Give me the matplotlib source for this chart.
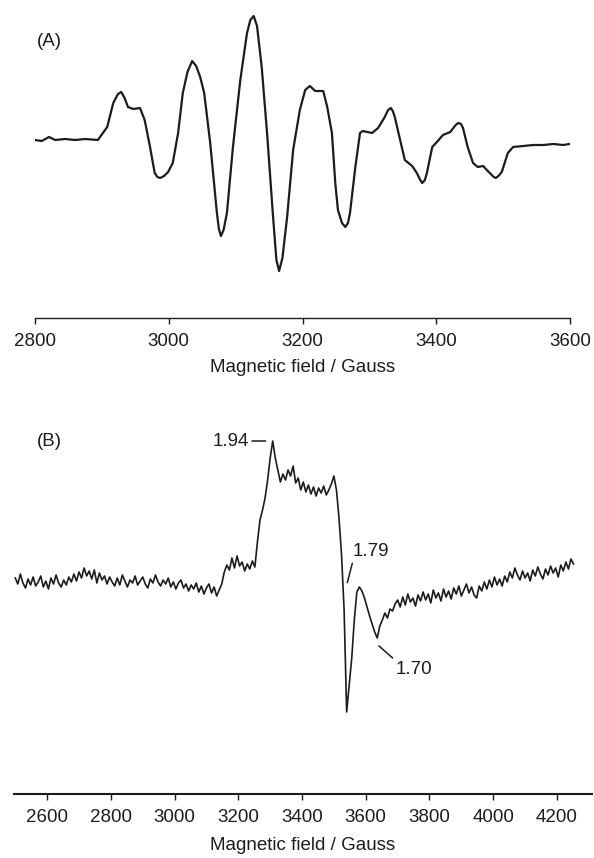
import matplotlib.pyplot as plt
import numpy as np

plt.rcParams['font.family'] = ['Liberation Sans', 'DejaVu Sans']

# (A) spectre RPE
field_a = [2800, 2810, 2821, 2830, 2845, 2860, 2875, 2894, 2908, 2917,
           2924, 2929, 2934, 2939, 2947, 2957, 2964, 2972, 2979, 2983,
           2987, 2993, 2999, 3006, 3014, 3021, 3028, 3035, 3041, 3047,
           3053, 3062, 3072, 3075, 3078, 3082, 3087, 3096, 3107, 3117,
           3122, 3127, 3132, 3139, 3147, 3156, 3161, 3165, 3170, 3177,
           3186, 3196, 3204, 3211, 3219, 3231, 3237, 3244, 3249, 3253,
           3259, 3264, 3268, 3271, 3279, 3286, 3290, 3304, 3313, 3323,
           3328, 3332, 3335, 3338, 3346, 3353, 3364, 3371, 3376, 3379,
           3383, 3386, 3394, 3401, 3410, 3421, 3429, 3433, 3437, 3440,
           3447, 3455, 3462, 3470, 3477, 3483, 3486, 3489, 3493, 3498,
           3507, 3515, 3530, 3545, 3560, 3575, 3590, 3599]
signal_a = [0, -1, 3, 0, 1, 0, 1, 0, 13, 37,
            46, 48, 42, 33, 31, 32, 20, -7, -33, -37,
            -38, -36, -32, -23, 7, 47, 68, 79, 74, 63,
            47, -3, -73, -89, -96, -90, -73, -7, 60, 107,
            120, 124, 114, 73, 7, -77, -120, -131, -118, -77,
            -10, 30, 50, 54, 49, 49, 33, 7, -43, -70,
            -83, -87, -83, -73, -27, 7, 9, 7, 12, 23,
            30, 32, 29, 23, 0, -20, -26, -33, -40, -43,
            -40, -33, -7, -2, 5, 8, 15, 17, 16, 12,
            -7, -23, -27, -26, -31, -35, -37, -38, -36, -32,
            -13, -7, -6, -5, -5, -4, -5, -4]

# (B) spectre RPE, balayage par pas de 8 G
field_b = np.arange(2500, 4253, 8)
signal_b = (
    # ligne de base 2500 - 3148
    [2, -4, 6, -3, -8, 1, -5, 3, -6, -2,
     4, -7, -1, -9, 2, -4, 5, -3, -7, 0,
     -5, 3, -2, 6, -1, 8, 2, 12, 4, 9,
     1, 10, -3, 7, 0, 4, -4, 3, -2, -6,
     2, -5, 5, -1, -7, 0, -3, 4, -5, -1,
     3, -4, -8, 1, -3, 5, -2, -6, 0, -4,
     2, -7, -2, -9, -3, 0, -8, -4, -11, -5,
     -9, -3, -12, -6, -14, -8, -4, -13, -7, -16,
     -10, -4]
    # marche 3156 - 3252
    + [8, 15, 10, 22, 12, 24, 14, 18, 9, 16, 11, 19, 13]
    # signal 3260 - 3692
    + [38, 60, 70, 82, 100, 122, 139, 122, 110, 98,
       106, 100, 110, 104, 114, 97, 102, 90, 98, 88,
       95, 86, 93, 84, 92, 87, 94, 85, 90, 96,
       104, 90, 62, 25, -30, -132, -105, -78, -40, -12,
       -7, -11, -18, -27, -36, -44, -52, -58, -46, -40,
       -33, -38, -29, -31, -24]
    # remontée 3700 - 4252
    + [-20, -27, -17, -25, -14, -22, -18, -26, -15, -21,
       -12, -20, -14, -23, -10, -18, -13, -21, -9, -17,
       -11, -19, -8, -14, -6, -16, -10, -4, -13, -7,
       -15, -18, -6, -11, -2, -9, 0, -7, 3, -5,
       1, -6, 4, -2, 8, 2, 12, 5, 0, 9,
       2, 7, -1, 10, 4, 13, 6, 1, 11, 5,
       14, 7, 12, 3, 15, 9, 18, 11, 21, 16]
)

ticks_a = [2800, 3000, 3200, 3400, 3600]
ticks_b = [2600, 2800, 3000, 3200, 3400, 3600, 3800, 4000, 4200]

# valeurs de g
g_labels = ['1.94', '1.79', '1.70']
g_fields = [3290, 3541, 3638]

ink = '#1c1c1c'
fs = 13.5

fig = plt.figure(figsize=(5.94, 8.58), dpi=100)
axA = fig.add_axes([35 / 594, 540 / 858, 535 / 594, 308 / 858])
axB = fig.add_axes([14 / 594, 64 / 858, 578 / 594, 394 / 858])

    # courbes
axA.plot(field_a, signal_a, color=ink, linewidth=1.6, solid_joinstyle='round')
axB.plot(field_b, signal_b, color=ink, linewidth=1.2)

axA.set_xlim(2800, 3600)
axA.set_ylim(-178, 130)
axB.set_xlim(2496, 4310)
axB.set_ylim(-214, 180)

for ax, ticks, lw in [(axA, ticks_a, 1.0), (axB, ticks_b, 1.5)]:
    for s in ['left', 'right', 'top']:
        ax.spines[s].set_visible(False)
    ax.spines['bottom'].set_color(ink)
    ax.spines['bottom'].set_linewidth(lw)
    ax.set_yticks([])
    ax.set_xticks(ticks)
    ax.tick_params(axis='x', direction='out', length=4, width=1, color=ink,
                   labelsize=fs, labelcolor=ink, pad=7)
    ax.set_xlabel('Magnetic field / Gauss', fontsize=fs, color=ink, va='center')
    ax.patch.set_alpha(0)

axA.xaxis.set_label_coords(0.5, -50 / 308)
axB.xaxis.set_label_coords(0.5, -51 / 394)

fig.text(37 / 594, 1 - 42 / 858, '(A)', fontsize=fs, color=ink, va='center')
fig.text(37 / 594, 1 - 442 / 858, '(B)', fontsize=fs, color=ink, va='center')

    # étiquettes g
arrow = dict(arrowstyle='-', color=ink, linewidth=1.1, shrinkA=0, shrinkB=1)
axB.annotate(g_labels[0], xy=(g_fields[0], 139), xytext=(3234, 139),
             ha='right', va='center', fontsize=fs, color=ink,
             arrowprops=dict(arrow, relpos=(1, 0.5)))
axB.annotate(g_labels[1], xy=(g_fields[1], -4), xytext=(3560, 28),
             ha='left', va='center', fontsize=fs, color=ink,
             arrowprops=dict(arrow, relpos=(0, 0)))
axB.annotate(g_labels[2], xy=(g_fields[2], -65), xytext=(3693, -89),
             ha='left', va='center', fontsize=fs, color=ink,
             arrowprops=dict(arrow, relpos=(0, 1)))

fig.savefig('out.png', dpi=100)
